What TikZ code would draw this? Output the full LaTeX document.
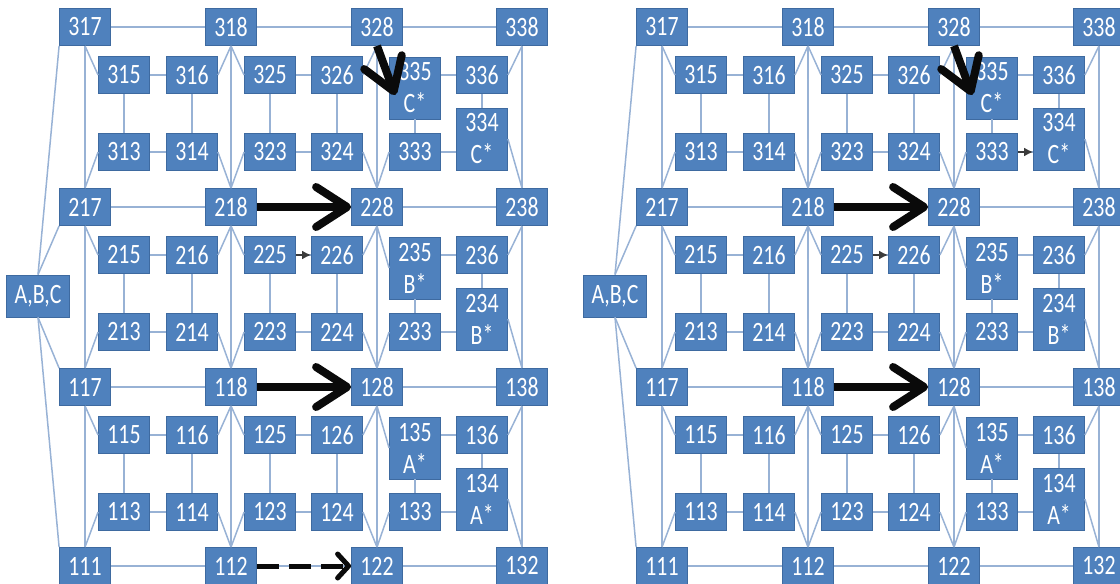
\documentclass[tikz,border=0pt]{standalone}
\usepackage{fontspec}
\setmainfont{Carlito}[FakeStretch=0.78]
\usepackage{tikz}
\usetikzlibrary{arrows.meta}
\definecolor{boxBlue}{RGB}{79,129,189}
\definecolor{boxEdge}{RGB}{62,106,160}
\definecolor{linkBlue}{RGB}{152,178,213}
\definecolor{arrowInk}{RGB}{10,10,10}

\begin{document}
\begin{tikzpicture}[
  x=1pt,y=-1pt,
  numbox/.style={draw=boxEdge,line width=0.8pt,fill=boxBlue,text=white,inner sep=0pt,minimum width=51pt,minimum height=37pt,font=\fontsize{28}{32}\selectfont},
  tallbox/.style={numbox,minimum height=62pt,align=center},
  inbox/.style={numbox,minimum width=63pt,minimum height=42pt},
  link/.style={draw=linkBlue,line width=1.5pt},
  bigarrow/.style={draw=arrowInk,line width=8pt,-{Straight Barb[length=31pt,width=40pt,round]}},
  smallarrow/.style={draw=arrowInk!80,line width=1.8pt,-{Latex[length=9pt,width=9pt]}},
  dasharrow/.style={draw=arrowInk,line width=5pt,dash pattern=on 22pt off 10pt,-{Straight Barb[length=11pt,width=24pt,round]}}
]
\useasboundingbox (0,0) rectangle (1120,584);
\clip (0,0) rectangle (1120,584);

\foreach \pn/\dx in {L/0,R/577}{
\begin{scope}[xshift=\dx]
  \node[inbox] (\pn abc) at (38,296) {A,B,C};
  \foreach \n/\x/\y in {317/85/27,318/231/27,328/377/27,338/522/27,
                        217/85/207,218/231/207,228/377/207,238/522/207,
                        117/85/387,118/231/387,128/377/387,138/522/387,
                        111/85/566,112/231/566,122/377/566,132/522/566}
    \node[numbox] (\pn\n) at (\x,\y) {\n};
  \foreach \rw/\y/\tg in {3/27/C,2/207/B,1/387/A}{
    \foreach \n/\x in {15/124,16/192,25/270,26/337,36/482}
      \node[numbox] (\pn\rw\n) at (\x,\y+48) {\rw\n};
    \foreach \n/\x in {13/124,14/192,23/270,24/337,33/415}
      \node[numbox] (\pn\rw\n) at (\x,\y+125) {\rw\n};
    \node[tallbox] (\pn\rw35) at (415,\y+61) {\rw35\\\tg*};
    \node[tallbox] (\pn\rw34) at (482,\y+112) {\rw34\\\tg*};
  }

  \foreach \a/\b in {317/318,318/328,328/338,217/218,218/228,228/238,
                     117/118,118/128,128/138,111/112,112/122,122/132,
                     317/217,217/117,117/111,318/218,218/118,118/112,
                     328/228,228/128,128/122,338/238,238/138,138/132}
    \draw[link] (\pn\a) -- (\pn\b);
  \foreach \b in {317,217}
    \draw[link] (\pn abc.north) -- (\pn\b.south west);
  \foreach \b in {117,111}
    \draw[link] (\pn abc.south) -- (\pn\b.north west);

  \foreach \rw/\bl/\bm/\bn/\bo in {3/217/218/228/238,2/117/118/128/138,1/111/112/122/132}{
    \draw[link] (\pn\rw17.south) -- (\pn\rw15.west);
    \draw[link] (\pn\rw18.south) -- (\pn\rw16.east);
    \draw[link] (\pn\rw18.south) -- (\pn\rw25.west);
    \draw[link] (\pn\rw28.south) -- (\pn\rw26.east);
    \draw[link] (\pn\rw28.south) -- (\pn\rw35.west);
    \draw[link] (\pn\rw38.south) -- (\pn\rw36.east);
    \draw[link] (\pn\rw13.west) -- (\pn\bl.north);
    \draw[link] (\pn\rw14.east) -- (\pn\bm.north);
    \draw[link] (\pn\rw23.west) -- (\pn\bm.north);
    \draw[link] (\pn\rw24.east) -- (\pn\bn.north);
    \draw[link] (\pn\rw33.west) -- (\pn\bn.north);
    \draw[link] (\pn\rw34.east) -- (\pn\bo.north);
    \foreach \c in {1,2}{
      \draw[link] (\pn\rw\c5) -- (\pn\rw\c6);
      \draw[link] (\pn\rw\c3) -- (\pn\rw\c4);
      \draw[link] (\pn\rw\c5) -- (\pn\rw\c3);
      \draw[link] (\pn\rw\c6) -- (\pn\rw\c4);
    }
    \draw[link] (\pn\rw36.west) -- (\pn\rw36.west -| \pn\rw35.east);
    \draw[link] (\pn\rw33.east) -- (\pn\rw33.east -| \pn\rw34.west);
    \draw[link] (\pn\rw35) -- (\pn\rw33);
    \draw[link] (\pn\rw36) -- (\pn\rw34);
  }
\end{scope}
}

\foreach \pn in {L,R}{
  \draw[bigarrow] (\pn218) -- (\pn228);
  \draw[bigarrow] (\pn118) -- (\pn128);
  \draw[bigarrow] (\pn328.south) -- ([shift={(6,7)}]\pn335.west);
  \draw[smallarrow] (\pn225) -- (\pn226);
}
\draw[smallarrow] (R333.east) -- (R333.east -| R334.west);
\draw[dasharrow] (L112) -- (L122);

\end{tikzpicture}
\end{document}
